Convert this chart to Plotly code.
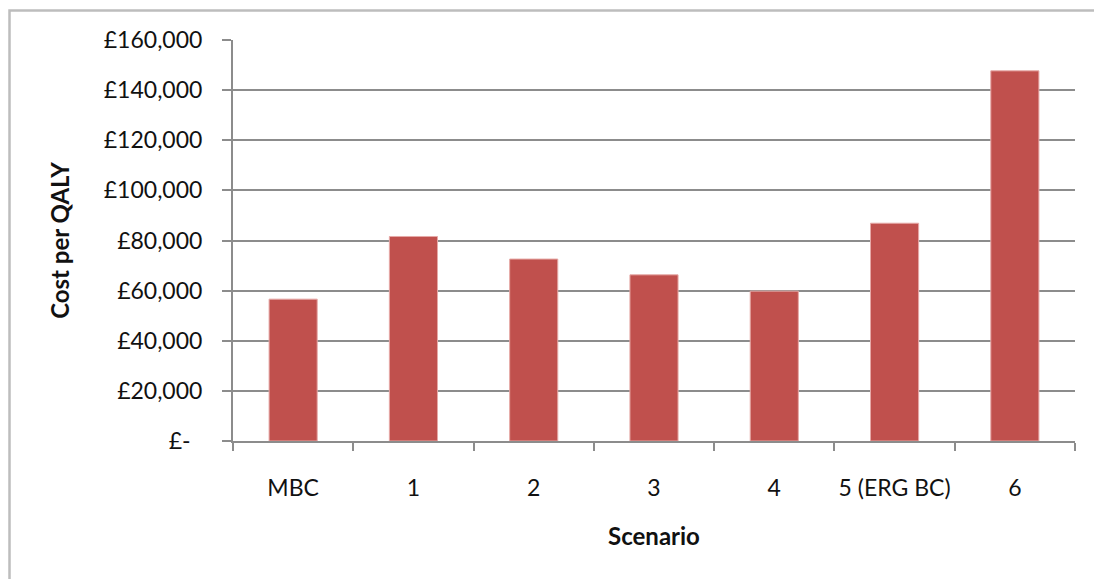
import plotly.graph_objects as go

scenarios = ["MBC", "1", "2", "3", "4", "5 (ERG BC)", "6"]
cost_per_qaly = [56600, 81600, 72600, 66300, 59800, 86900, 147700]

ytick_vals = [0, 20000, 40000, 60000, 80000, 100000, 120000, 140000, 160000]
ytick_text = ["£-\u00a0\u00a0", "£20,000", "£40,000", "£60,000", "£80,000",
              "£100,000", "£120,000", "£140,000", "£160,000"]

W, H = 1094, 579
L, R, T, B = 233, 19, 40, 138
pw, ph = W - L - R, H - T - B
bottom_px = T + ph

FONT = "Lato"
fig = go.Figure()
fig.add_trace(go.Bar(
    x=scenarios, y=cost_per_qaly,
    marker=dict(color="#C0504D", line=dict(color="#E6A9A7", width=1)),
    width=0.4,
))

# outer chart border (extends beyond right/bottom edges)
fig.add_shape(type="rect", xref="paper", yref="paper",
              x0=(9.5 - L) / pw, x1=(1100 - L) / pw,
              y0=(bottom_px - 600) / ph, y1=(bottom_px - 10.5) / ph,
              line=dict(color="#BDBDBD", width=2.5), layer="below")

fig.update_layout(
    width=W, height=H,
    margin=dict(l=L, r=R, t=T, b=B, pad=0, autoexpand=False),
    paper_bgcolor="white", plot_bgcolor="white",
    showlegend=False,
    font=dict(family=FONT, color="#111111", size=22),
    bargap=0.6,
)
fig.update_xaxes(
    automargin=False, tickangle=0,
    showline=True, linecolor="#8C8C8C", linewidth=2,
    ticks="outside", ticklen=8, tickwidth=1.5, tickcolor="#8C8C8C",
    tickson="boundaries", showgrid=False,
    tickfont=dict(family=FONT, size=23, color="#111111"),
    ticklabelstandoff=25,
    title=dict(text="<b>Scenario</b>", font=dict(family=FONT, size=24, color="#111111"), standoff=29),
)
fig.update_yaxes(
    automargin=False,
    range=[0, 160000],
    tickvals=ytick_vals, ticktext=ytick_text,
    showline=True, linecolor="#8C8C8C", linewidth=2,
    ticks="outside", ticklen=9, tickwidth=2, tickcolor="#8C8C8C",
    showgrid=True, gridcolor="#8C8C8C", gridwidth=2,
    zeroline=False,
    tickfont=dict(family=FONT, size=23, color="#111111"),
    ticklabelstandoff=15,
    title=dict(text="<b>Cost per QALY</b>", font=dict(family=FONT, size=24, color="#111111"), standoff=27),
)

fig.write_html("out.html")
